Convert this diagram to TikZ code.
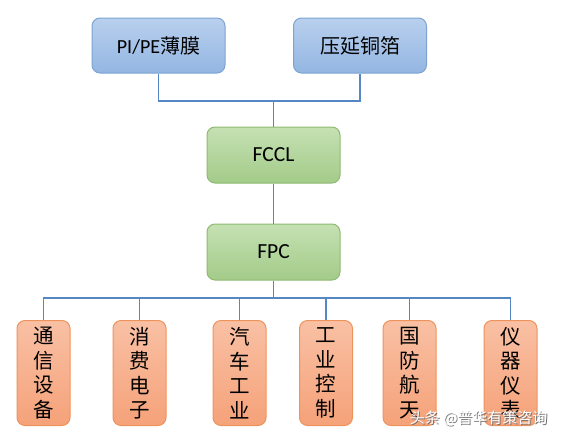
\documentclass[tikz,border=0pt]{standalone}
\usepackage{fontspec}
\setmainfont{Carlito}
\newfontfamily\cjk{Noto Sans CJK SC}
\definecolor{bluetop}{HTML}{B9D0EE}
\definecolor{bluebot}{HTML}{93B6E2}
\definecolor{blueedge}{HTML}{7CA3D2}
\definecolor{greentop}{HTML}{C5E1B3}
\definecolor{greenbot}{HTML}{A3CB89}
\definecolor{greenedge}{HTML}{8FBA72}
\definecolor{orangetop}{HTML}{F9C0A4}
\definecolor{orangebot}{HTML}{F5A279}
\definecolor{orangeedge}{HTML}{EF935C}
\definecolor{linkcol}{HTML}{5487C4}
\begin{document}
\begin{tikzpicture}[x=1pt,y=-1pt,
  boxbase/.style={rounded corners=8pt, line width=1pt, inner sep=0pt, align=center},
  bluebox/.style={boxbase, draw=blueedge, top color=bluetop, bottom color=bluebot,
     minimum width=133pt, minimum height=55pt, font=\fontsize{20}{24}\selectfont},
  greenbox/.style={boxbase, draw=greenedge, top color=greentop, bottom color=greenbot,
     minimum width=133pt, minimum height=56pt, font=\fontsize{21.5}{24}\selectfont},
  orangebox/.style={boxbase, draw=orangeedge, top color=orangetop, bottom color=orangebot,
     minimum width=53pt, minimum height=105pt, font=\cjk\fontsize{20.5}{24.5}\selectfont},
  link/.style={draw=linkcol, line width=1.8pt}]
\useasboundingbox (0,0) rectangle (563,437);
\node[bluebox] (pi) at (158.5,45.5) {PI/PE{\cjk 薄膜}};
\node[bluebox] (cu) at (360,45.5) {\cjk 压延铜箔};
\node[greenbox] (fccl) at (273.5,155) {FCCL};
\node[greenbox] (fpc) at (273.5,252) {FPC};
\node[orangebox] (b1) at (43.5,373) {通\\信\\设\\备};
\node[orangebox] (b2) at (139.5,373) {消\\费\\电\\子};
\node[orangebox] (b3) at (239.5,373) {汽\\车\\工\\业};
\node[orangebox] (b4) at (326,373) {工\\业\\控\\制};
\node[orangebox] (b5) at (409.5,373) {国\\防\\航\\天};
\node[orangebox] (b6) at (510.5,373) {仪\\器\\仪\\表};
\coordinate (top) at (273.5,101);
\coordinate (bus) at (273.5,298);
\draw[link] (pi.south) |- (top) -| (cu.south);
\draw[link] (top) -- (fccl.north);
\draw[link] (fccl.south) -- (fpc.north);
\draw[link] (fpc.south) -- (bus);
\draw[link] (b1.north) |- (bus) -| (b6.north);
\draw[link] (b2.north) -- (b2.north |- bus);
\draw[link] (b3.north) -- (b3.north |- bus);
\draw[link] (b4.north) -- (b4.north |- bus);
\draw[link] (b5.north) -- (b5.north |- bus);
\node[text=black!55, font=\cjk\fontsize{15}{18}\selectfont, anchor=east] (wms) at (552,419) {头条 @普华有策咨询};
\node[text=white, font=\cjk\fontsize{15}{18}\selectfont, anchor=east] (wm) at (551,418) {头条 @普华有策咨询};
\end{tikzpicture}
\end{document}
